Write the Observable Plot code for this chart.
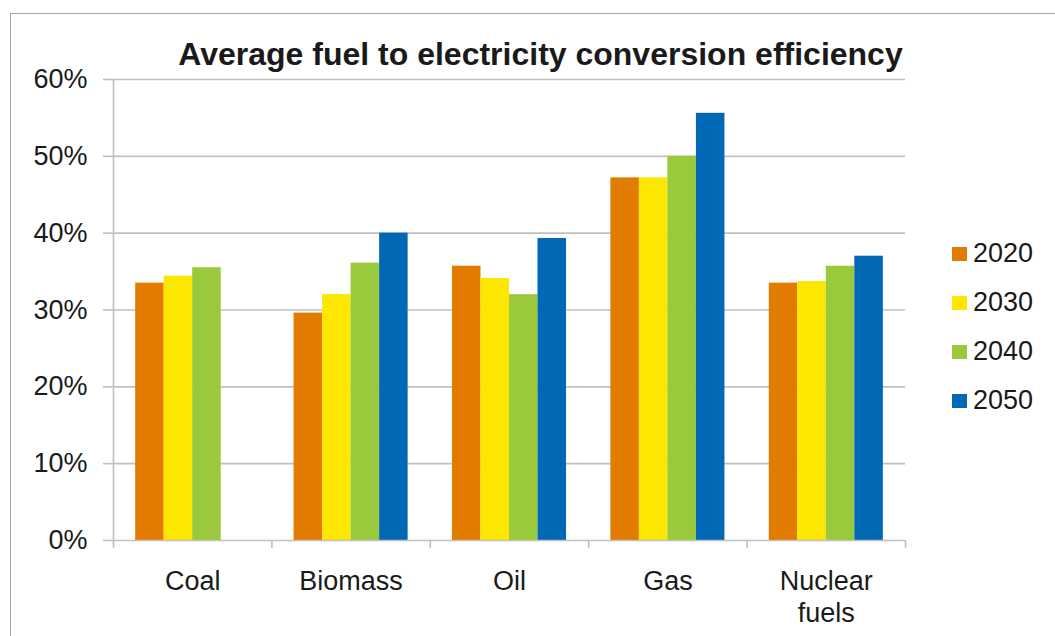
<!DOCTYPE html>
<html>
<head>
<meta charset="utf-8">
<script src="https://cdn.jsdelivr.net/npm/d3@7"></script>
<script src="https://cdn.jsdelivr.net/npm/@observablehq/plot@0.6"></script>
<style>
  html, body { margin: 0; padding: 0; background: #fff; }
  #wrap { position: relative; width: 1055px; height: 636px; overflow: hidden; font-family: "Liberation Sans", Arial, sans-serif; color: #1a1a1a; }
  #frame { position: absolute; left: 10px; top: 13px; width: 1100px; height: 700px; border-top: 1.5px solid #a8a8a8; border-left: 1.5px solid #a8a8a8; }
  #chart { position: absolute; left: 0; top: 0; }
  #title { position: absolute; left: 540.5px; top: 38px; transform: translateX(-50%); font-size: 32px; line-height: 32px; font-weight: bold; white-space: nowrap; }
  .leg { position: absolute; left: 952px; height: 27px; font-size: 27px; line-height: 27px; white-space: nowrap; }
  .leg .sw { position: absolute; left: 0; top: 7px; width: 15px; height: 14px; }
  .leg .lab { position: absolute; left: 21px; top: 0; }
</style>
</head>
<body>
<div id="wrap">
  <div id="frame"></div>
  <div id="chart"></div>
  <div id="title"></div>
  <div id="legend"></div>
</div>
<script>
const title = "Average fuel to electricity conversion efficiency";
const categories = ["Coal", "Biomass", "Oil", "Gas", "Nuclear\nfuels"];
const years = ["2020", "2030", "2040", "2050"];
const colors = ["#e27c00", "#fde700", "#9bc93c", "#0068b4"];
// values in percent (null = no bar)
const v2020 = [33.5, 29.6, 35.7, 47.2, 33.5];
const v2030 = [34.4, 32.0, 34.1, 47.2, 33.7];
const v2040 = [35.5, 36.1, 32.0, 50.0, 35.7];
const v2050 = [null, 40.0, 39.3, 55.6, 37.0];
const yTicks = [0, 0.1, 0.2, 0.3, 0.4, 0.5, 0.6];

const series = [v2020, v2030, v2040, v2050];
const barW = 0.18;
const rows = [];
series.forEach((vals, j) => {
  vals.forEach((v, i) => {
    if (v == null) return;
    rows.push({cat: i, year: years[j], value: v / 100, x1: i + (j - 2) * barW, x2: i + (j - 1) * barW});
  });
});

const grid = "#c0c0c0";
const chart = Plot.plot({
  width: 1055,
  height: 636,
  marginLeft: 113,
  marginRight: 150,
  marginTop: 79,
  marginBottom: 96,
  style: {fontFamily: '"Liberation Sans", Arial, sans-serif', fontSize: "27px", color: "#1a1a1a", background: "transparent"},
  x: {type: "linear", domain: [-0.5, 4.5], axis: null},
  y: {domain: [0, 0.6], axis: null},
  color: {domain: years, range: colors},
  marks: [
    Plot.ruleY(yTicks.slice(1), {stroke: grid, strokeWidth: 1.6}),
    Plot.rectY(rows, {x1: "x1", x2: "x2", y: "value", fill: "year"}),
    Plot.axisY(yTicks, {label: null, tickSize: 10, tickPadding: 16, stroke: grid, strokeWidth: 1.6, fill: "#1a1a1a", fontSize: 27, tickFormat: d => Math.round(d * 100) + "%"}),
    Plot.ruleY([0], {stroke: grid, strokeWidth: 1.6}),
    Plot.ruleX([-0.5], {y1: 0, y2: 0.6, stroke: grid, strokeWidth: 1.6}),
    Plot.axisX(d3.range(-0.5, 5, 1), {label: null, tickSize: 8, stroke: grid, strokeWidth: 1.6, tickFormat: () => ""}),
    Plot.axisX(d3.range(5), {label: null, tickSize: 0, tickPadding: 26, fill: "#1a1a1a", fontSize: 27, lineHeight: 1.2, tickFormat: i => categories[i]})
  ]
});
document.getElementById("chart").appendChild(chart);
document.getElementById("title").textContent = title;

const legend = document.getElementById("legend");
years.forEach((y, k) => {
  const d = document.createElement("div");
  d.className = "leg";
  d.style.top = (240 + 49 * k) + "px";
  d.innerHTML = `<span class="sw" style="background:${colors[k]}"></span><span class="lab">${y}</span>`;
  legend.appendChild(d);
});
</script>
</body>
</html>
